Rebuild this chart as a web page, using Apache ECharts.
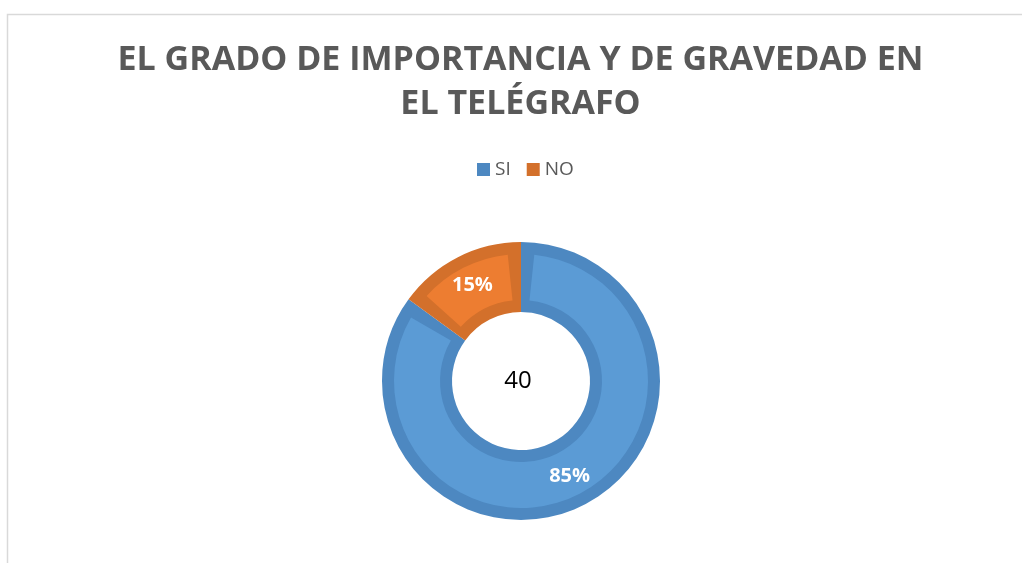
<!DOCTYPE html>
<html>
<head>
<meta charset="utf-8">
<script src="https://cdn.jsdelivr.net/npm/echarts@6/dist/echarts.min.js"></script>
<style>
html,body{margin:0;padding:0;background:#fff;}
#chart{width:1022px;height:563px;}
</style>
</head>
<body>
<div id="chart"></div>
<script>
const titleText = 'EL GRADO DE IMPORTANCIA Y DE GRAVEDAD EN\nEL TELÉGRAFO';
const categories = ['SI', 'NO'];
const values = [85, 15];
const centerLabel = '40';
const fillColors = ['#5b9bd5', '#ed7d31'];
const edgeColors = ['#4d88c1', '#d3702b'];

const chart = echarts.init(document.getElementById('chart'), null, {renderer: 'canvas'});
const cx = 521, cy = 381;

const data = categories.map((c, i) => ({name: c, value: values[i]}));

chart.setOption({
  animation: false,
  backgroundColor: '#ffffff',
  legend: {
    data: categories,
    top: 155,
    left: 472,
    itemWidth: 13,
    itemHeight: 13,
    itemGap: 16,
    icon: 'rect',
    textStyle: {fontFamily: 'Open Sans', fontSize: 19, color: '#595959'}
  },
  graphic: [
    {type: 'rect', shape: {x: 7.5, y: 14.5, width: 1100, height: 700}, style: {fill: 'none', stroke: '#d9d9d9', lineWidth: 1.5}, silent: true, z: -10},
    {type: 'text', x: 520.5, y: 38, style: {text: titleText, fontFamily: 'Open Sans', fontWeight: 'bold', fontSize: 34, lineHeight: 44, fill: '#595959', align: 'center', verticalAlign: 'top'}, z: 10},
    {type: 'text', x: cx - 3, y: cy, style: {text: centerLabel, font: '24px "Open Sans"', fill: '#000', textAlign: 'center', textVerticalAlign: 'middle'}, z: 10}
  ],
  series: [
    {
      type: 'pie',
      center: [cx, cy],
      radius: [69, 139],
      startAngle: 90,
      clockwise: true,
      label: {show: false},
      labelLine: {show: false},
      silent: true,
      legendHoverLink: false,
      data: data.map((d, i) => ({name: d.name, value: d.value, itemStyle: {color: edgeColors[i]}})),
      itemStyle: {borderWidth: 0}
    },
    {
      type: 'pie',
      center: [cx, cy],
      radius: [81, 127],
      startAngle: 90,
      clockwise: true,
      padAngle: 12,
      color: fillColors,
      data: data,
      itemStyle: {borderWidth: 0},
      label: {
        show: true,
        position: 'inside',
        formatter: '{d}%',
        color: '#ffffff',
        fontFamily: 'Open Sans',
        fontWeight: 'bold',
        fontSize: 20
      },
      labelLine: {show: false}
    }
  ],
  color: fillColors
});
</script>
</body>
</html>
